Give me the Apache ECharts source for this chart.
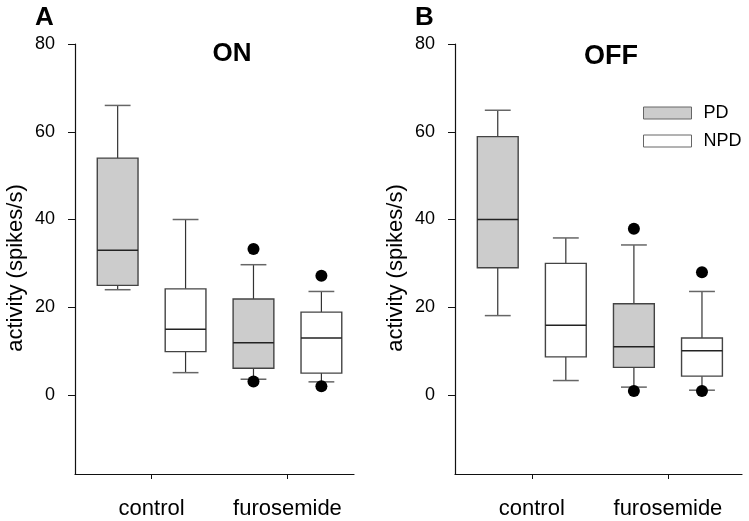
<!DOCTYPE html>
<html>
<head>
<meta charset="utf-8">
<script src="https://cdn.jsdelivr.net/npm/echarts@6/dist/echarts.min.js"></script>
<style>html,body{margin:0;padding:0;background:#fff}#c{width:749px;height:521px}</style>
</head>
<body>
<div id="c"></div>
<script>
// ---- data ----
var categories = ['control', 'furosemide'];
var groups = ['PD', 'NPD'];
var yTicks = [0, 20, 40, 60, 80];
// [whiskerLow, Q1, median, Q3, whiskerHigh] for control, furosemide
var onPD   = [[24, 25, 33, 54, 66], [3.6, 6.1, 11.9, 21.9, 29.7]];
var onNPD  = [[5.1, 9.9, 15, 24.2, 40], [3, 5, 13, 18.9, 23.6]];
var offPD  = [[18.1, 29, 40, 58.9, 64.9], [1.8, 6.3, 11, 20.8, 34.2]];
var offNPD = [[3.3, 8.7, 15.9, 30, 35.8], [1.1, 4.3, 10.1, 13, 23.6]];
// outliers per box: [control, furosemide]
var onPDOut   = [[], [33.3, 3.1]];
var onNPDOut  = [[], [27.2, 2.0]];
var offPDOut  = [[], [37.9, 0.9]];
var offNPDOut = [[], [28.0, 0.9]];

var FONT = 'Liberation Sans, Arial, sans-serif';
var OFFSET = 0.25, BOXW = 0.30, CAPW = 0.19;

function boxData(stats, sign) {
  return stats.map(function (s, i) {
    return [i + 1 + sign * OFFSET].concat(s);
  });
}
function outData(outs, sign) {
  var r = [];
  outs.forEach(function (arr, i) {
    arr.forEach(function (v) { r.push([i + 1 + sign * OFFSET, v]); });
  });
  return r;
}

function renderBox(params, api) {
  var x = api.value(0);
  var lo = api.coord([x, api.value(1)]);
  var q1 = api.coord([x, api.value(2)]);
  var md = api.coord([x, api.value(3)]);
  var q3 = api.coord([x, api.value(4)]);
  var hi = api.coord([x, api.value(5)]);
  var hw = api.size([BOXW, 0])[0] / 2;
  var cw = api.size([CAPW, 0])[0] / 2;
  var cx = lo[0];
  var fill = api.visual('color');
  return {
    type: 'group',
    children: [
      {type: 'line', shape: {x1: cx, y1: q3[1], x2: cx, y2: hi[1]}, style: {stroke: '#333', lineWidth: 1.2}},
      {type: 'line', shape: {x1: cx, y1: q1[1], x2: cx, y2: lo[1]}, style: {stroke: '#333', lineWidth: 1.2}},
      {type: 'line', shape: {x1: cx - cw, y1: hi[1], x2: cx + cw, y2: hi[1]}, style: {stroke: '#666', lineWidth: 1.5}},
      {type: 'line', shape: {x1: cx - cw, y1: lo[1], x2: cx + cw, y2: lo[1]}, style: {stroke: '#666', lineWidth: 1.5}},
      {type: 'rect', shape: {x: cx - hw, y: q3[1], width: 2 * hw, height: q1[1] - q3[1]}, style: {fill: fill, stroke: '#444', lineWidth: 1.4}},
      {type: 'line', shape: {x1: cx - hw, y1: md[1], x2: cx + hw, y2: md[1]}, style: {stroke: '#222', lineWidth: 1.4}}
    ]
  };
}

var grids = [
  {left: 75, top: 44, width: 279, height: 430},
  {left: 455, top: 44, width: 287, height: 430}
];
var xMax = [2.49, 2.544];

function xAxisFor(i) {
  return {
    type: 'value', gridIndex: i, min: 0.436, max: xMax[i],
    axisLine: {show: true, onZero: false, lineStyle: {color: '#111', width: 1.2}},
    axisTick: {show: true, customValues: [1, 2], length: 5, lineStyle: {color: '#111'}},
    axisLabel: {show: true, customValues: [1, 2], margin: 24, fontSize: 22, color: '#000', fontFamily: FONT,
      formatter: function (v) { return categories[Math.round(v) - 1] || ''; }},
    splitLine: {show: false}
  };
}
function yAxisFor(i) {
  return {
    type: 'value', gridIndex: i, min: -18, max: 80,
    axisLine: {show: true, onZero: false, lineStyle: {color: '#111', width: 1.2}},
    axisTick: {show: true, customValues: yTicks, length: 7, lineStyle: {color: '#111'}},
    axisLabel: {show: true, customValues: yTicks, margin: 20, fontSize: 18, color: '#000', fontFamily: FONT},
    splitLine: {show: false}
  };
}

var panels = [
  {pd: onPD, npd: onNPD, pdOut: onPDOut, npdOut: onNPDOut},
  {pd: offPD, npd: offNPD, pdOut: offPDOut, npdOut: offNPDOut}
];
var series = [];
panels.forEach(function (p, i) {
  series.push({
    name: groups[0], type: 'custom', xAxisIndex: i, yAxisIndex: i,
    itemStyle: {color: '#cccccc'}, renderItem: renderBox,
    encode: {x: 0, y: [1, 2, 3, 4, 5]}, data: boxData(p.pd, -1), z: 2
  });
  series.push({
    name: groups[1], type: 'custom', xAxisIndex: i, yAxisIndex: i,
    itemStyle: {color: '#ffffff'}, renderItem: renderBox,
    encode: {x: 0, y: [1, 2, 3, 4, 5]}, data: boxData(p.npd, 1), z: 2
  });
  series.push({
    type: 'scatter', xAxisIndex: i, yAxisIndex: i, symbolSize: 12,
    itemStyle: {color: '#000', opacity: 1}, data: outData(p.pdOut, -1).concat(outData(p.npdOut, 1)), z: 3
  });
});

var chart = echarts.init(document.getElementById('c'), null, {renderer: 'canvas'});
chart.setOption({
  animation: false,
  backgroundColor: '#fff',
  grid: grids,
  xAxis: [xAxisFor(0), xAxisFor(1)],
  yAxis: [yAxisFor(0), yAxisFor(1)],
  legend: {
    orient: 'vertical', left: 638, top: 99, itemWidth: 48, itemHeight: 12, itemGap: 10,
    selectedMode: false,
    textStyle: {fontSize: 18, color: '#000', fontFamily: FONT, padding: [0, 0, 0, 7]},
    data: [
      {name: 'PD', icon: 'rect', itemStyle: {color: '#cccccc', borderColor: '#666', borderWidth: 1}},
      {name: 'NPD', icon: 'rect', itemStyle: {color: '#ffffff', borderColor: '#666', borderWidth: 1}}
    ]
  },
  graphic: [
    {type: 'text', left: 35, top: 5, style: {text: 'A', font: 'bold 26px ' + FONT, fill: '#000'}},
    {type: 'text', left: 415, top: 5, style: {text: 'B', font: 'bold 26px ' + FONT, fill: '#000'}},
    {type: 'text', x: 232, y: 54, style: {text: 'ON', font: 'bold 26px ' + FONT, fill: '#000', align: 'center', verticalAlign: 'middle'}},
    {type: 'text', x: 611, y: 57, style: {text: 'OFF', font: 'bold 27px ' + FONT, fill: '#000', align: 'center', verticalAlign: 'middle'}},
    {type: 'text', x: 16, y: 268, rotation: Math.PI / 2, style: {text: 'activity (spikes/s)', font: '22px ' + FONT, fill: '#000', align: 'center', verticalAlign: 'middle'}},
    {type: 'text', x: 396, y: 268, rotation: Math.PI / 2, style: {text: 'activity (spikes/s)', font: '22px ' + FONT, fill: '#000', align: 'center', verticalAlign: 'middle'}}
  ],
  series: series
});
</script>
</body>
</html>
